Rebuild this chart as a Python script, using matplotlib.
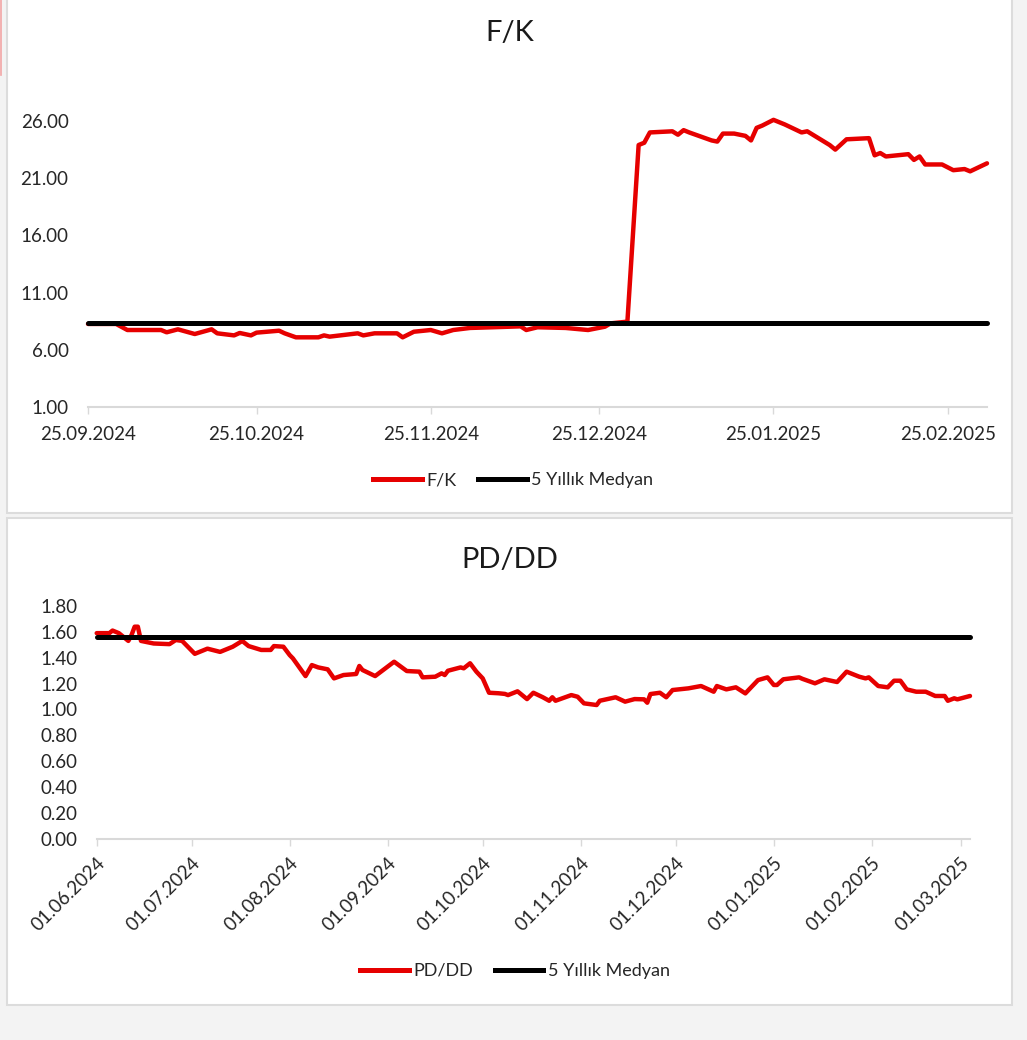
import matplotlib
matplotlib.use("Agg")
import matplotlib.pyplot as plt
import matplotlib.dates as mdates
from matplotlib.patches import Rectangle
from matplotlib.lines import Line2D
import pandas as pd

# ---------------- data ----------------
fk_dates = ['2024-09-25', '2024-09-30', '2024-10-02', '2024-10-08', '2024-10-09', '2024-10-11',
            '2024-10-14', '2024-10-17', '2024-10-18', '2024-10-21', '2024-10-22', '2024-10-24',
            '2024-10-25', '2024-10-29', '2024-10-30', '2024-11-01', '2024-11-05', '2024-11-06',
            '2024-11-07', '2024-11-12', '2024-11-13', '2024-11-15', '2024-11-19', '2024-11-20',
            '2024-11-22', '2024-11-25', '2024-11-27', '2024-11-29', '2024-12-02', '2024-12-06',
            '2024-12-11', '2024-12-12', '2024-12-14', '2024-12-19', '2024-12-23', '2024-12-26',
            '2024-12-27', '2024-12-30', '2025-01-01', '2025-01-02', '2025-01-03', '2025-01-07',
            '2025-01-08', '2025-01-09', '2025-01-10', '2025-01-14', '2025-01-15', '2025-01-16',
            '2025-01-18', '2025-01-20', '2025-01-21', '2025-01-22', '2025-01-23', '2025-01-25',
            '2025-01-27', '2025-01-30', '2025-01-31', '2025-02-04', '2025-02-05', '2025-02-07',
            '2025-02-11', '2025-02-12', '2025-02-13', '2025-02-14', '2025-02-18', '2025-02-19',
            '2025-02-20', '2025-02-21', '2025-02-24', '2025-02-26', '2025-02-28', '2025-03-01',
            '2025-03-04']
fk_values = [8.26, 8.26, 7.73, 7.73, 7.53, 7.79,
             7.38, 7.79, 7.44, 7.26, 7.47, 7.26,
             7.50, 7.67, 7.44, 7.09, 7.09, 7.26,
             7.15, 7.44, 7.26, 7.44, 7.44, 7.09,
             7.58, 7.73, 7.44, 7.73, 7.91, 7.97,
             8.05, 7.73, 7.97, 7.91, 7.73, 8.02,
             8.31, 8.46, 23.9, 24.1, 25.0, 25.1,
             24.8, 25.2, 25.0, 24.3, 24.2, 24.9,
             24.9, 24.7, 24.3, 25.4, 25.6, 26.1,
             25.7, 25.0, 25.1, 23.9, 23.5, 24.4,
             24.5, 23.0, 23.2, 22.9, 23.1, 22.6,
             22.9, 22.2, 22.2, 21.7, 21.8, 21.6,
             22.3]
fk_median = 8.34
fk_yticks = [1, 6, 11, 16, 21, 26]
fk_xticks = ['25.09.2024', '25.10.2024', '25.11.2024', '25.12.2024', '25.01.2025', '25.02.2025']

pd_dates = ['2024-06-01', '2024-06-05', '2024-06-06', '2024-06-08', '2024-06-11', '2024-06-12',
            '2024-06-13', '2024-06-14', '2024-06-15', '2024-06-19', '2024-06-24', '2024-06-26',
            '2024-06-28', '2024-07-02', '2024-07-06', '2024-07-10', '2024-07-14', '2024-07-17',
            '2024-07-19', '2024-07-23', '2024-07-26', '2024-07-27', '2024-07-30', '2024-08-01',
            '2024-08-02', '2024-08-06', '2024-08-08', '2024-08-10', '2024-08-13', '2024-08-15',
            '2024-08-18', '2024-08-22', '2024-08-23', '2024-08-24', '2024-08-28', '2024-09-03',
            '2024-09-07', '2024-09-11', '2024-09-12', '2024-09-16', '2024-09-18', '2024-09-19',
            '2024-09-20', '2024-09-24', '2024-09-25', '2024-09-27', '2024-09-29', '2024-10-01',
            '2024-10-03', '2024-10-06', '2024-10-08', '2024-10-09', '2024-10-12', '2024-10-15',
            '2024-10-17', '2024-10-20', '2024-10-22', '2024-10-23', '2024-10-24', '2024-10-29',
            '2024-10-31', '2024-11-02', '2024-11-06', '2024-11-07', '2024-11-12', '2024-11-15',
            '2024-11-18', '2024-11-21', '2024-11-22', '2024-11-23', '2024-11-26', '2024-11-28',
            '2024-11-30', '2024-12-05', '2024-12-09', '2024-12-13', '2024-12-14', '2024-12-17',
            '2024-12-20', '2024-12-23', '2024-12-27', '2024-12-30', '2025-01-01', '2025-01-02',
            '2025-01-04', '2025-01-09', '2025-01-10', '2025-01-14', '2025-01-17', '2025-01-21',
            '2025-01-24', '2025-01-28', '2025-01-30', '2025-01-31', '2025-02-03', '2025-02-06',
            '2025-02-08', '2025-02-10', '2025-02-12', '2025-02-15', '2025-02-18', '2025-02-21',
            '2025-02-24', '2025-02-25', '2025-02-27', '2025-02-28', '2025-03-04']
pd_values = [1.59, 1.59, 1.61, 1.59, 1.53, 1.575,
             1.64, 1.64, 1.53, 1.51, 1.505, 1.537,
             1.53, 1.43, 1.47, 1.445, 1.485, 1.53,
             1.49, 1.46, 1.46, 1.49, 1.485, 1.42,
             1.395, 1.258, 1.343, 1.325, 1.31, 1.24,
             1.266, 1.274, 1.336, 1.305, 1.258, 1.369,
             1.297, 1.292, 1.248, 1.253, 1.279, 1.266,
             1.299, 1.325, 1.318, 1.357, 1.292, 1.24,
             1.129, 1.125, 1.12, 1.111, 1.14, 1.08,
             1.129, 1.094, 1.067, 1.094, 1.067, 1.111,
             1.098, 1.047, 1.034, 1.067, 1.094, 1.06,
             1.08, 1.078, 1.052, 1.119, 1.129, 1.094,
             1.15, 1.163, 1.181, 1.137, 1.181, 1.155,
             1.171, 1.124, 1.227, 1.248, 1.189, 1.189,
             1.233, 1.248, 1.237, 1.202, 1.233, 1.212,
             1.292, 1.253, 1.24, 1.248, 1.181, 1.171,
             1.222, 1.222, 1.155, 1.137, 1.137, 1.104,
             1.104, 1.067, 1.086, 1.078, 1.104]
pd_median = 1.56
pd_yticks = [0.0, 0.2, 0.4, 0.6, 0.8, 1.0, 1.2, 1.4, 1.6, 1.8]
pd_xticks = ['01.06.2024', '01.07.2024', '01.08.2024', '01.09.2024', '01.10.2024',
             '01.11.2024', '01.12.2024', '01.01.2025', '01.02.2025', '01.03.2025']

# ---------------- style ----------------
FONT = ['Lato', 'DejaVu Sans']
plt.rcParams['font.family'] = FONT
RED = '#e60000'
BLACK = '#000000'
AXIS_GRAY = '#d9d9d9'
TXT = '#262626'

W, H = 1027, 1040
fig = plt.figure(figsize=(W / 100, H / 100), dpi=100)
fig.patch.set_facecolor('#f3f3f3')


def fx(px):
    return px / W


def fy(py):
    return 1 - py / H


# panel backgrounds
for (x0, y0, x1, y1) in [(7, -5, 1012, 513), (7, 518, 1012, 1005)]:
    fig.add_artist(Rectangle((fx(x0), fy(y1)), fx(x1) - fx(x0), fy(y0) - fy(y1),
                             transform=fig.transFigure, facecolor='white',
                             edgecolor='#dcdcdc', lw=1.5, zorder=-10))
fig.add_artist(Line2D([fx(1), fx(1)], [fy(0), fy(75)], transform=fig.transFigure,
                      color='#f2a5a5', lw=1.2, zorder=-5))


def style_axes(ax):
    ax.set_facecolor('none')
    for s in ['top', 'right', 'left']:
        ax.spines[s].set_visible(False)
    ax.spines['bottom'].set_color(AXIS_GRAY)
    ax.spines['bottom'].set_linewidth(1.5)
    ax.tick_params(axis='y', length=0, pad=14, labelsize=13.5, labelcolor=TXT)
    ax.tick_params(axis='x', length=5, width=1.0, color=AXIS_GRAY, labelsize=13.5,
                   labelcolor=TXT, direction='out')


# ---------------- F/K ----------------
fk_x = pd.to_datetime(fk_dates)
ax1 = fig.add_axes([fx(88), fy(407), fx(987) - fx(88), fy(121) - fy(407)])
style_axes(ax1)
ax1.plot(fk_x, fk_values, color=RED, lw=3.2, solid_joinstyle='round',
         solid_capstyle='round', clip_on=False, zorder=3)
ax1.plot([fk_x[0], fk_x[-1]], [fk_median, fk_median], color=BLACK, lw=3.6,
         solid_capstyle='round', clip_on=False, zorder=4)
ax1.set_ylim(1, 26)
ax1.set_yticks(fk_yticks)
ax1.set_yticklabels([f'{v:.2f}' for v in fk_yticks])
ax1.set_xlim(fk_x[0], fk_x[-1])
fk_tick_pos = pd.to_datetime(fk_xticks, format='%d.%m.%Y')
ax1.set_xticks(fk_tick_pos)
ax1.set_xticklabels(fk_xticks)
ax1.tick_params(axis='x', pad=9)
fig.text(fx(510), fy(33), 'F/K', ha='center', va='center', fontsize=21, color='#1a1a1a')
h1 = [Line2D([], [], color=RED, lw=3.6), Line2D([], [], color=BLACK, lw=3.6)]
ax1.legend(h1, ['F/K', '5 Yıllık Medyan'], loc='center', bbox_to_anchor=(fx(513), fy(480)),
           bbox_transform=fig.transFigure, ncol=2, frameon=False, fontsize=13,
           handlelength=2.7, handletextpad=0.25, columnspacing=1.2, labelcolor=TXT)

# ---------------- PD/DD ----------------
pd_x = pd.to_datetime(pd_dates)
ax2 = fig.add_axes([fx(96.7), fy(838.7), fx(970) - fx(96.7), fy(606) - fy(838.7)])
style_axes(ax2)
ax2.plot(pd_x, pd_values, color=RED, lw=3.2, solid_joinstyle='round',
         solid_capstyle='round', clip_on=False, zorder=3)
ax2.plot([pd_x[0], pd_x[-1]], [pd_median, pd_median], color=BLACK, lw=3.6,
         solid_capstyle='round', clip_on=False, zorder=4)
ax2.set_ylim(0, 1.8)
ax2.set_yticks(pd_yticks)
ax2.set_yticklabels([f'{v:.2f}' for v in pd_yticks])
ax2.set_xlim(pd_x[0], pd_x[-1])
pd_tick_pos = pd.to_datetime(pd_xticks, format='%d.%m.%Y')
ax2.set_xticks(pd_tick_pos)
ax2.set_xticklabels(pd_xticks)
ax2.tick_params(axis='x', pad=6)
for lab in ax2.get_xticklabels():
    lab.set_rotation(45)
    lab.set_ha('right')
    lab.set_va('top')
    lab.set_rotation_mode('anchor')
fig.text(fx(510), fy(560), 'PD/DD', ha='center', va='center', fontsize=21, color='#1a1a1a')
h2 = [Line2D([], [], color=RED, lw=3.6), Line2D([], [], color=BLACK, lw=3.6)]
ax2.legend(h2, ['PD/DD', '5 Yıllık Medyan'], loc='center', bbox_to_anchor=(fx(515), fy(971)),
           bbox_transform=fig.transFigure, ncol=2, frameon=False, fontsize=13,
           handlelength=2.7, handletextpad=0.25, columnspacing=1.2, labelcolor=TXT)

fig.savefig('out.png', dpi=100, facecolor=fig.get_facecolor())
